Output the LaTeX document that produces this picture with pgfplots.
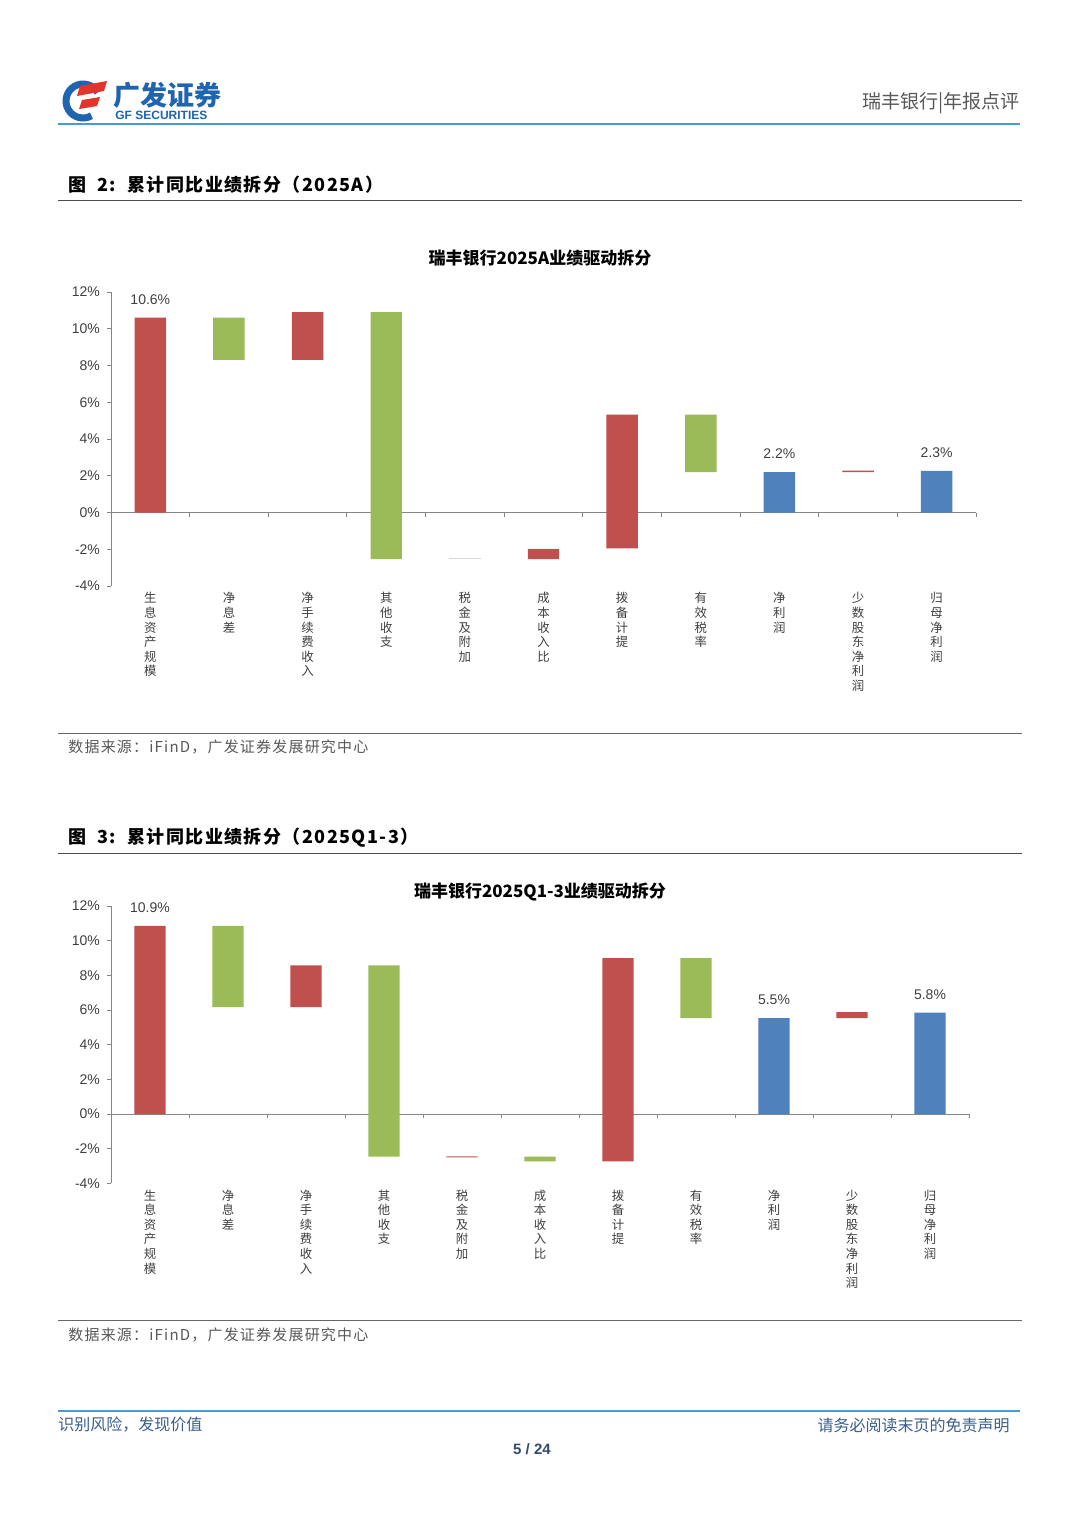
\documentclass[border=0pt]{standalone}
\usepackage{fontspec}
\setmainfont{Liberation Sans}
\newfontfamily\cjk{Noto Sans CJK SC}
\newfontfamily\cjkwide[LetterSpace=8]{Noto Sans CJK SC}
\usepackage{pgfplots}
\pgfplotsset{compat=1.18}
\usepackage{pgfplotstable}
\definecolor{wred}{HTML}{C0504D}
\definecolor{wgreen}{HTML}{9BBB59}
\definecolor{wblue}{HTML}{4F81BD}
\definecolor{axgray}{HTML}{868686}
\definecolor{tickgray}{HTML}{404040}
\definecolor{hdrblue}{HTML}{4A9AD4}
\definecolor{logoblue}{HTML}{1E64B0}
\definecolor{logored}{HTML}{E2342A}
\definecolor{foottext}{HTML}{3B5E8C}

\pgfplotstableread{
x lo red green blue pale
0 0 10.6 0 0 0
1 8.3 0 2.3 0 0
2 8.3 2.6 0 0 0
3 -2.53 0 13.43 0 0
4 -2.55 0 0 0 0.05
5 -2.53 0.55 0 0 0
6 -1.95 7.28 0 0 0
7 2.2 0 3.13 0 0
8 0 0 0 2.2 0
9 2.2 0.08 0 0 0
10 0 0 0 2.27 0
}\dataA

\pgfplotstableread{
x lo red green blue pale
0 0 10.86 0 0 0
1 6.16 0 4.70 0 0
2 6.16 2.42 0 0 0
3 -2.46 0 11.04 0 0
4 -2.50 0.05 0 0 0
5 -2.73 0 0.27 0 0
6 -2.73 11.72 0 0 0
7 5.53 0 3.46 0 0
8 0 0 0 5.53 0
9 5.53 0.35 0 0 0
10 0 0 0 5.85 0
}\dataB

\pgfplotsset{
  wfall/.style={
    scale only axis,
    axis lines=left,
    axis line style={draw=none},
    ybar stacked,
    stack negative=on previous,
    bar width=0.4,
    xmin=-0.5, xmax=10.5,
    ymin=-4, ymax=12,
    ytick={-4,-2,0,2,4,6,8,10,12},
    /pgf/number format/assume math mode=true,
    yticklabel={\pgfmathprintnumber{\tick}\%},
    yticklabel style={font=\fontsize{7}{8}\selectfont, text=tickgray},
    ytick style={axgray, line width=0.5pt},
    tick align=outside,
    major tick length=2pt,
    xtick={0,1,2,3,4,5,6,7,8,9,10},
    xtick style={draw=none},
    xticklabels={{生\\息\\资\\产\\规\\模},{净\\息\\差},{净\\手\\续\\费\\收\\入},{其\\他\\收\\支},{税\\金\\及\\附\\加},{成\\本\\收\\入\\比},{拨\\备\\计\\提},{有\\效\\税\\率},{净\\利\\润},{少\\数\\股\\东\\净\\利\\润},{归\\母\\净\\利\\润}},
    xticklabel style={font=\cjk\fontsize{6.2}{7.3}\selectfont, text=tickgray, align=center, anchor=north, inner sep=1pt, yshift=0pt},
    clip=false,
  }
}

\newcommand{\axdecor}{%
  \draw[axgray, line width=0.5pt] (axis cs:-0.5,-4) -- (axis cs:-0.5,12);
  \draw[axgray, line width=0.5pt] (axis cs:-0.5,0) -- (axis cs:10.5,0);
  \draw[axgray, line width=0.5pt]
    (axis cs:0.5,0) -- ([yshift=-2pt]axis cs:0.5,0)
    (axis cs:1.5,0) -- ([yshift=-2pt]axis cs:1.5,0)
    (axis cs:2.5,0) -- ([yshift=-2pt]axis cs:2.5,0)
    (axis cs:3.5,0) -- ([yshift=-2pt]axis cs:3.5,0)
    (axis cs:4.5,0) -- ([yshift=-2pt]axis cs:4.5,0)
    (axis cs:5.5,0) -- ([yshift=-2pt]axis cs:5.5,0)
    (axis cs:6.5,0) -- ([yshift=-2pt]axis cs:6.5,0)
    (axis cs:7.5,0) -- ([yshift=-2pt]axis cs:7.5,0)
    (axis cs:8.5,0) -- ([yshift=-2pt]axis cs:8.5,0)
    (axis cs:9.5,0) -- ([yshift=-2pt]axis cs:9.5,0)
    (axis cs:10.5,0) -- ([yshift=-2pt]axis cs:10.5,0);
}

\begin{document}
\begin{tikzpicture}
\useasboundingbox (0,0) rectangle (540pt,-763.5pt);
\fill[white] (0,0) rectangle (540pt,-763.5pt);

\begin{scope}[x=0.5pt,y=-0.5pt]
  % logo
  \draw[logoblue, line width=3.5pt] ([shift={(60:17)}]83,101) arc (60:330:17);
  \fill[logored] (80,86) -- (107,81) -- (104,91) -- (77,96) -- cycle;
  \fill[logored] (82,100) -- (100,97) -- (97,106) -- (79,109) -- cycle;
  \node[anchor=west, inner sep=0pt, text=logoblue, font=\cjk\bfseries\fontsize{13.5}{14}\selectfont] at (113,95) {广发证券};
  \node[anchor=west, inner sep=0pt, text=logoblue, font=\bfseries\fontsize{6}{7}\selectfont] at (115,115) {GF SECURITIES};
  \node[anchor=east, inner sep=0pt, text=black!65, font=\cjk\fontsize{9.5}{11}\selectfont] at (1020,103) {瑞丰银行|年报点评};
  \draw[hdrblue, line width=1pt] (58,124) -- (1020,124);

  % chart 1 frame
  \node[anchor=west, inner sep=0pt, font=\cjkwide\bfseries\fontsize{9}{10}\selectfont] at (68,185) {图\ \ 2:\ \ 累计同比业绩拆分（2025A）};
  \draw[black!70, line width=0.5pt] (58,200) -- (1022,200);
  \node[inner sep=0pt, font=\cjk\bfseries\fontsize{8.5}{10}\selectfont] at (540,258) {瑞丰银行2025A业绩驱动拆分};
  \draw[black!60, line width=0.5pt] (58,733) -- (1022,733);
  \node[anchor=west, inner sep=0pt, text=black!65, font=\cjkwide\fontsize{7.5}{9}\selectfont] at (68,747) {数据来源：iFinD，广发证券发展研究中心};

  % chart 2 frame
  \node[anchor=west, inner sep=0pt, font=\cjkwide\bfseries\fontsize{9}{10}\selectfont] at (68,838) {图\ \ 3:\ \ 累计同比业绩拆分（2025Q1-3）};
  \draw[black!70, line width=0.5pt] (58,853) -- (1022,853);
  \node[inner sep=0pt, font=\cjk\bfseries\fontsize{8.5}{10}\selectfont] at (540,892) {瑞丰银行2025Q1-3业绩驱动拆分};
  \draw[black!60, line width=0.5pt] (58,1320) -- (1022,1320);
  \node[anchor=west, inner sep=0pt, text=black!65, font=\cjkwide\fontsize{7.5}{9}\selectfont] at (68,1335) {数据来源：iFinD，广发证券发展研究中心};

  % footer
  \draw[hdrblue, line width=1pt] (58,1411) -- (1020,1411);
  \node[anchor=west, inner sep=0pt, text=foottext, font=\cjk\fontsize{8}{9}\selectfont] at (58,1425) {识别风险，发现价值};
  \node[anchor=east, inner sep=0pt, text=foottext, font=\cjk\fontsize{8}{9}\selectfont] at (1010,1425) {请务必阅读末页的免责声明};
  \node[inner sep=0pt, text=foottext!80!black, font=\bfseries\fontsize{7.5}{9}\selectfont] at (532,1449) {5 / 24};
\end{scope}

% chart 1
\begin{axis}[wfall, width=432.5pt, height=147pt, at={(55.5pt,-293pt)}, anchor=south west]
  \addplot[draw=none, fill=none] table[x=x, y=lo] {\dataA};
  \addplot[draw=none, fill=wred] table[x=x, y=red] {\dataA};
  \addplot[draw=none, fill=wgreen] table[x=x, y=green] {\dataA};
  \addplot[draw=none, fill=wblue] table[x=x, y=blue] {\dataA};
  \addplot[draw=none, fill=black!15] table[x=x, y=pale] {\dataA};
  \axdecor
  \node[anchor=south, yshift=3pt, font=\fontsize{7}{8}\selectfont, text=tickgray] at (axis cs:0,10.6) {10.6\%};
  \node[anchor=south, yshift=3pt, font=\fontsize{7}{8}\selectfont, text=tickgray] at (axis cs:8,2.2) {2.2\%};
  \node[anchor=south, yshift=3pt, font=\fontsize{7}{8}\selectfont, text=tickgray] at (axis cs:10,2.27) {2.3\%};
\end{axis}

% chart 2
\begin{axis}[wfall, width=429pt, height=138.67pt, at={(55.5pt,-591.67pt)}, anchor=south west]
  \addplot[draw=none, fill=none] table[x=x, y=lo] {\dataB};
  \addplot[draw=none, fill=wred] table[x=x, y=red] {\dataB};
  \addplot[draw=none, fill=wgreen] table[x=x, y=green] {\dataB};
  \addplot[draw=none, fill=wblue] table[x=x, y=blue] {\dataB};
  \addplot[draw=none, fill=black!15] table[x=x, y=pale] {\dataB};
  \axdecor
  \node[anchor=south, yshift=3pt, font=\fontsize{7}{8}\selectfont, text=tickgray] at (axis cs:0,10.86) {10.9\%};
  \node[anchor=south, yshift=3pt, font=\fontsize{7}{8}\selectfont, text=tickgray] at (axis cs:8,5.53) {5.5\%};
  \node[anchor=south, yshift=3pt, font=\fontsize{7}{8}\selectfont, text=tickgray] at (axis cs:10,5.85) {5.8\%};
\end{axis}
\end{tikzpicture}
\end{document}
